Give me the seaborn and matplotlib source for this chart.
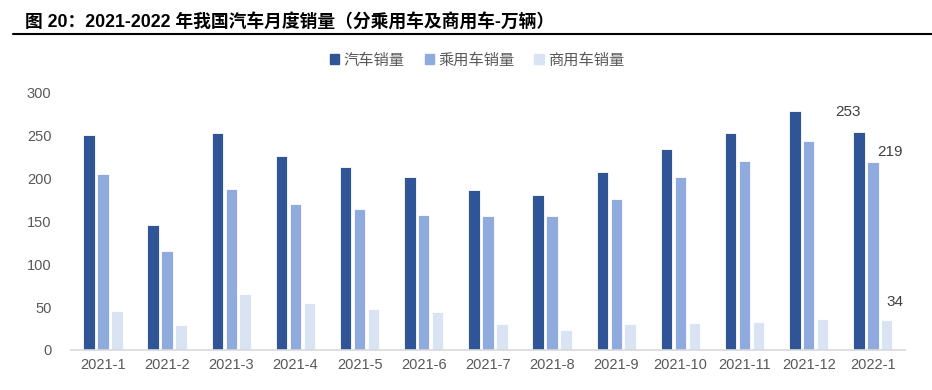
import pandas as pd
import matplotlib
matplotlib.use("Agg")
import matplotlib.pyplot as plt
import seaborn as sns

# 数据（万辆）
months = ['2021-1', '2021-2', '2021-3', '2021-4', '2021-5', '2021-6', '2021-7',
          '2021-8', '2021-9', '2021-10', '2021-11', '2021-12', '2022-1']
total_sales = [250.3, 145.3, 252.8, 225.2, 212.8, 201.5, 186.4,
               180.0, 207.1, 233.8, 252.2, 278.6, 253.1]
passenger_sales = [204.6, 115.3, 187.4, 169.8, 164.4, 157.0, 155.4,
                   155.4, 175.3, 201.0, 219.6, 242.7, 218.6]
commercial_sales = [45.6, 29.2, 64.7, 54.5, 47.5, 44.0, 30.8,
                    23.8, 30.8, 31.9, 32.3, 35.8, 34.5]
series_names = ['汽车销量', '乘用车销量', '商用车销量']
colors = ['#2F5597', '#8FAADC', '#DAE3F3']

sns.set_style('white')
plt.rcParams['font.family'] = ['Liberation Sans', 'Noto Sans CJK SC', 'DejaVu Sans']
plt.rcParams['axes.unicode_minus'] = False

df = pd.DataFrame({
    'month': months * 3,
    'value': total_sales + passenger_sales + commercial_sales,
    'series': [series_names[0]] * len(months) + [series_names[1]] * len(months)
              + [series_names[2]] * len(months),
})

fig = plt.figure(figsize=(9.32, 3.9), dpi=100)
ax = fig.add_axes([0.076, 0.1026, 0.895, 0.661])

sns.barplot(data=df, x='month', y='value', hue='series', hue_order=series_names,
            palette=colors, saturation=1, width=0.65, gap=0.18, ax=ax,
            legend=False, edgecolor='white', linewidth=0.6)

ax.set_xlim(-0.5, len(months) - 0.5)
ax.set_ylim(0, 300)
ax.set_yticks(range(0, 301, 50))
ax.set_xlabel('')
ax.set_ylabel('')
for side in ['top', 'right', 'left']:
    ax.spines[side].set_visible(False)
ax.spines['bottom'].set_color('#D9D9D9')
ax.spines['bottom'].set_linewidth(1.2)
ax.tick_params(axis='both', length=0, labelsize=10.5, colors='#595959', pad=6)
ax.tick_params(axis='y', pad=14)

# 最后一个月的数据标签
last = len(months) - 1
label_offsets = [(-8, 10), (12, 2), (6, 8)]
for vals, (dx, dy), k in zip([total_sales, passenger_sales, commercial_sales],
                             label_offsets, range(3)):
    bar = ax.containers[k][last]
    cx = bar.get_x() + bar.get_width() / 2
    ax.annotate(f'{vals[last]:.0f}', xy=(cx, vals[last]), xytext=(dx, dy),
                textcoords='offset points', ha='center', va='bottom',
                fontsize=11, color='#404040')

# 图例
handles = [plt.Rectangle((0, 0), 1, 1, color=c) for c in colors]
fig.legend(handles, series_names, loc='center', bbox_to_anchor=(0.512, 0.845),
           ncol=3, frameon=False, fontsize=11, handlelength=0.6,
           handleheight=0.6, handletextpad=0.3, columnspacing=1.3,
           labelcolor='#595959')

# 标题和分隔线
fig.text(0.027, 0.942, '图 20：2021-2022 年我国汽车月度销量（分乘用车及商用车-万辆）',
         fontsize=12.8, fontweight='bold', color='black', va='center')
fig.add_artist(plt.Line2D([0.014, 1.0], [0.912, 0.912], color='black', linewidth=1.5))

fig.savefig('out.png', dpi=100)
